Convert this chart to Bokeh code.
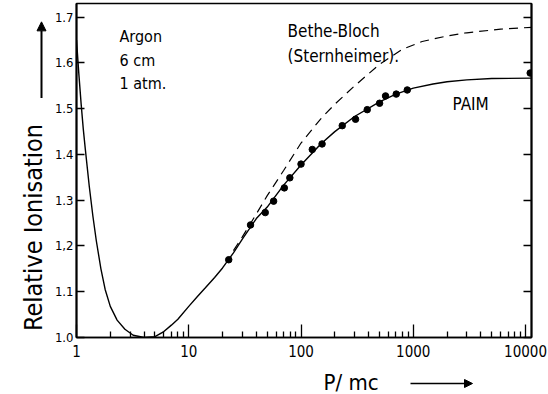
import math
from bokeh.plotting import figure
from bokeh.layouts import row, column
from bokeh.models import (Range1d, FixedTicker, LinearAxis, Label, Arrow,
                          NormalHead)
from bokeh.embed import file_html
from bokeh.resources import INLINE

# PAIM calculation (solid curve): momentum P/mc vs relative ionisation
paim_p = [1.0, 1.05, 1.1, 1.15, 1.2, 1.3, 1.4, 1.5, 1.65, 1.8, 2.0, 2.3,
          2.7, 3.2, 4.0, 5.0, 6.0, 7.0, 8.0, 10, 12, 14, 17, 20, 25, 30, 40,
          50, 70, 100, 150, 200, 300, 500, 700, 1000, 1500, 2000, 3000, 5000,
          11300]
paim_i = [1.65, 1.575, 1.51, 1.455, 1.41, 1.33, 1.265, 1.212, 1.15, 1.105,
          1.068, 1.038, 1.018, 1.005, 1.0, 1.002, 1.013, 1.027, 1.04, 1.068,
          1.09, 1.108, 1.131, 1.152, 1.185, 1.215, 1.26, 1.285, 1.333, 1.377,
          1.423, 1.45, 1.483, 1.515, 1.532, 1.545, 1.554, 1.559, 1.563,
          1.566, 1.567]

# Bethe-Bloch with Sternheimer density correction (dashed curve)
bb_p = [25, 30, 40, 50, 70, 100, 150, 200, 300, 500, 800, 1200, 2000,
        3000, 6000, 11300]
bb_i = [1.19, 1.22, 1.27, 1.31, 1.365, 1.425, 1.478, 1.51, 1.55, 1.597,
        1.63, 1.647, 1.659, 1.666, 1.674, 1.678]

# Measured points
meas_p = [22.7, 35.5, 48, 57, 71, 79.5, 100, 126, 154, 233, 306, 389, 501,
          566, 705, 884, 11000]
meas_i = [1.170, 1.246, 1.273, 1.298, 1.327, 1.349, 1.379, 1.411, 1.423,
          1.463, 1.477, 1.498, 1.512, 1.528, 1.532, 1.541, 1.578]

y_ticks = [1.0, 1.1, 1.2, 1.3, 1.4, 1.5, 1.6, 1.7]
y_tick_labels = ["1.0", "1.1", "1,2", "1.3", "1.4", "1.5", "1.6", "1.7"]
x_ticks = [1, 10, 100, 1000, 10000]
x_tick_labels = ["1", "10", "100", "1000", "10000"]

FONT = "DejaVu Sans Condensed"

# page: left gutter (y title) | main plot, with a bottom gutter (x title)
LEFT_W, MAIN_W, TOP_H, BOTTOM_H = 48, 500, 364, 30

p = figure(width=MAIN_W, height=TOP_H, x_axis_type="log",
           x_range=Range1d(1, 11300), y_range=Range1d(1.0, 1.73),
           output_backend="svg", toolbar_location=None,
           min_border_left=28, min_border_right=17,
           min_border_top=3, min_border_bottom=27)
p.background_fill_color = "white"
p.border_fill_color = "white"
p.outline_line_color = "black"
p.outline_line_width = 1.5
p.xgrid.visible = False
p.ygrid.visible = False

# bottom (log) axis, ticks pointing into the frame
minor = [m * 10 ** d for d in range(4) for m in range(2, 10)]
xa = p.xaxis[0]
xa.ticker = FixedTicker(ticks=x_ticks, minor_ticks=minor)
xa.major_label_overrides = {t: s for t, s in zip(x_ticks, x_tick_labels)}
xa.major_tick_in = 13
xa.major_tick_out = 0
xa.minor_tick_in = 6
xa.minor_tick_out = 0
xa.axis_line_width = 1.5
xa.major_tick_line_width = 1.3
xa.minor_tick_line_width = 1.3
xa.major_label_standoff = 7
xa.major_label_text_font = FONT
xa.major_label_text_font_size = "15px"
xa.major_label_text_color = "black"

# left axis
ya = p.yaxis[0]
ya.ticker = FixedTicker(ticks=y_ticks)
ya.major_label_overrides = {t: s for t, s in zip(y_ticks, y_tick_labels)}
ya.major_tick_in = 8
ya.major_tick_out = 0
ya.minor_tick_in = 0
ya.minor_tick_out = 0
ya.axis_line_width = 2
ya.major_tick_line_width = 1.3
ya.major_label_standoff = 3
ya.major_label_text_font = FONT
ya.major_label_text_font_size = "13px"
ya.major_label_text_color = "black"

# right axis: ticks only
ra = LinearAxis(ticker=FixedTicker(ticks=y_ticks))
ra.major_label_overrides = {t: "" for t in y_ticks}
ra.major_tick_in = 8
ra.major_tick_out = 0
ra.minor_tick_in = 0
ra.minor_tick_out = 0
ra.axis_line_width = 2
ra.major_tick_line_width = 1.3
ra.major_label_standoff = 0
p.add_layout(ra, "right")

p.line(paim_p, paim_i, line_color="black", line_width=1.4)
p.line(bb_p, bb_i, line_color="black", line_width=1.2, line_dash="9 6")
p.scatter(meas_p, meas_i, size=6.5, fill_color="black", line_color="black")

def add_text(fig, txt, x, y, size, units="screen", **kw):
    fig.add_layout(Label(x=x, y=y, x_units=units, y_units=units,
                         text=txt, text_font=FONT, text_font_size=size,
                         text_color="black", **kw))

# annotations inside the frame (pixels from the frame's bottom-left corner)
add_text(p, "Argon", 43, 292, "16px")
add_text(p, "6 cm", 43, 268, "16px")
add_text(p, "1 atm.", 43, 245, "16px")
add_text(p, "Bethe-Bloch", 211, 297, "17px")
add_text(p, "(Sternheimer).", 211, 272, "17px")
add_text(p, "PAIM", 376, 224, "17px")


def gutter(w, h):
    # blank panel whose data units are its own pixels (origin bottom-left)
    g = figure(width=w, height=h, x_range=Range1d(0, w), y_range=Range1d(0, h),
               x_axis_location=None, y_axis_location=None,
               output_backend="svg", toolbar_location=None, min_border=0)
    g.xgrid.visible = False
    g.ygrid.visible = False
    g.outline_line_color = None
    g.background_fill_color = "white"
    g.border_fill_color = "white"
    return g


# y title with upward arrow
gl = gutter(LEFT_W, TOP_H)
add_text(gl, "Relative Ionisation", 33, 7, "25px", units="data",
         angle=math.pi / 2, text_baseline="middle")
gl.add_layout(Arrow(x_start=41, y_start=TOP_H - 103, x_end=41,
                    y_end=TOP_H - 20, line_width=2, line_color="black",
                    end=NormalHead(size=9, fill_color="black",
                                   line_color="black")))

# x title with rightward arrow
gb = gutter(LEFT_W + MAIN_W, BOTTOM_H)
add_text(gb, "P/ mc", 323, BOTTOM_H - 17.5, "22px", units="data",
         text_baseline="middle")
gb.add_layout(Arrow(x_start=410, y_start=BOTTOM_H - 19, x_end=472,
                    y_end=BOTTOM_H - 19, line_width=1.5, line_color="black",
                    end=NormalHead(size=8, fill_color="black",
                                   line_color="black")))

page = column(row(gl, p, spacing=0), gb, spacing=0)

open("out.html", "w").write(file_html(page, INLINE))
